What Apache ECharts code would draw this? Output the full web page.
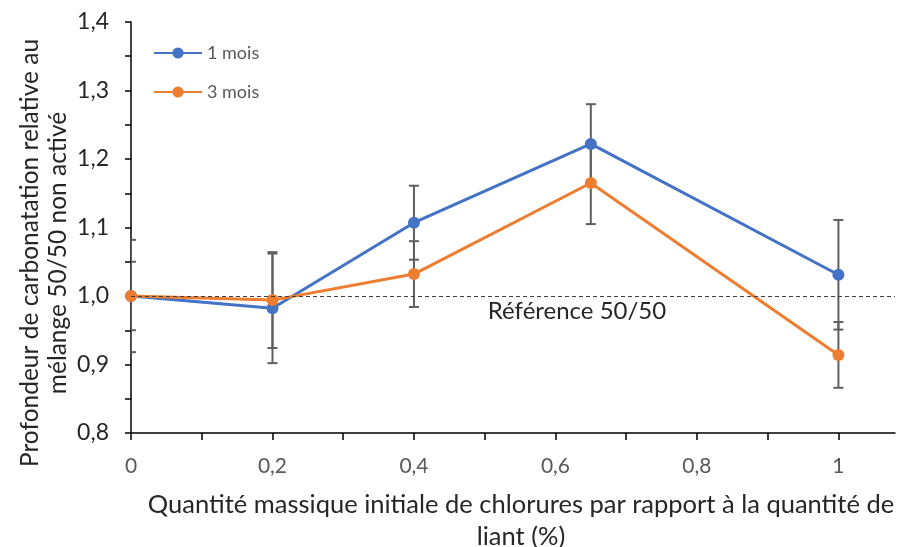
<!DOCTYPE html>
<html>
<head>
<meta charset="utf-8">
<script src="https://cdn.jsdelivr.net/npm/echarts@6/dist/echarts.min.js"></script>
<style>html,body{margin:0;padding:0;background:#fff}#c{width:901px;height:547px}</style>
</head>
<body>
<div id="c"></div>
<script>
const xValues = [0, 0.2, 0.4, 0.65, 1];
const mois1 = [1.0, 0.982, 1.107, 1.222, 1.031];
const mois1Err = [0.082, 0.08, 0.054, 0.058, 0.08];
const mois3 = [1.0, 0.994, 1.032, 1.165, 0.914];
const mois3Err = [0.05, 0.07, 0.048, 0.06, 0.048];
const xTickValues = [0, 0.1, 0.2, 0.3, 0.4, 0.5, 0.6, 0.7, 0.8, 0.9, 1.0];
const xLabelValues = [0, 0.2, 0.4, 0.6, 0.8, 1];
const yTickValues = [0.8, 0.85, 0.9, 0.95, 1.0, 1.05, 1.1, 1.15, 1.2, 1.25, 1.3, 1.35, 1.4];
const seriesNames = ['1 mois', '3 mois'];
const referenceValue = 1.0;
const referenceLabel = 'Référence 50/50';
const xTitle = 'Quantité massique initiale de chlorures par rapport à la quantité de\nliant (%)';
const yTitle = 'Profondeur de carbonatation relative au\nmélange 50/50 non activé';

const FONT = 'Lato';
const BLUE = '#4472C4', ORANGE = '#ED7D31', ERR = '#5f5f5f';

function errData(vals, errs) {
  return xValues.map((x, i) => [x, vals[i] - errs[i], vals[i] + errs[i]]);
}
function errRender(params, api) {
  const x = api.value(0);
  const lo = api.coord([x, api.value(1)]);
  const hi = api.coord([x, api.value(2)]);
  const w = 5;
  const style = { stroke: ERR, lineWidth: 2 };
  return {
    type: 'group',
    children: [
      { type: 'line', shape: { x1: lo[0], y1: lo[1], x2: hi[0], y2: hi[1] }, style },
      { type: 'line', shape: { x1: lo[0] - w, y1: lo[1], x2: lo[0] + w, y2: lo[1] }, style },
      { type: 'line', shape: { x1: hi[0] - w, y1: hi[1], x2: hi[0] + w, y2: hi[1] }, style }
    ]
  };
}

const chart = echarts.init(document.getElementById('c'), null, { renderer: 'canvas' });
chart.setOption({
  animation: false,
  textStyle: { fontFamily: FONT },
  grid: { left: 131, right: 6, top: 22, bottom: 114, containLabel: false },
  legend: {
    orient: 'vertical', left: 148, top: 37, itemWidth: 48, itemHeight: 14, itemGap: 17,
    data: seriesNames,
    textStyle: { color: '#595959', fontSize: 18, lineHeight: 22, fontFamily: FONT }
  },
  xAxis: {
    type: 'value', min: 0, max: 1.08,
    axisLine: { show: true, onZero: false, lineStyle: { color: '#000', width: 1.5 } },
    axisTick: { show: true, customValues: xTickValues, length: 7, lineStyle: { color: '#000', width: 1.5 } },
    axisLabel: {
      customValues: xLabelValues, margin: 23, color: '#595959', fontSize: 21, fontFamily: FONT,
      formatter: v => String(Math.round(v * 10) / 10).replace('.', ',')
    },
    splitLine: { show: false }
  },
  yAxis: {
    type: 'value', min: 0.8, max: 1.4, interval: 0.1,
    axisLine: { show: true, lineStyle: { color: '#000', width: 1.5 } },
    axisTick: { show: true, customValues: yTickValues, length: 6, lineStyle: { color: '#000', width: 1.5 } },
    axisLabel: {
      margin: 22, color: '#262626', fontSize: 23, fontFamily: FONT,
      formatter: v => v.toFixed(1).replace('.', ',')
    },
    splitLine: { show: false }
  },
  graphic: [
    { type: 'text', x: 577, y: 311, style: { text: referenceLabel, font: '24px ' + FONT, fill: '#262626', textAlign: 'center', textVerticalAlign: 'middle' }, z: 10 },
    { type: 'text', x: 521, y: 521, style: { text: xTitle, font: '25.5px ' + FONT, fill: '#262626', textAlign: 'center', textVerticalAlign: 'middle', lineHeight: 32 } },
    { type: 'text', x: 44, y: 253, rotation: Math.PI / 2, style: { text: yTitle, font: '24.5px ' + FONT, fill: '#262626', textAlign: 'center', textVerticalAlign: 'middle', lineHeight: 28 } }
  ],
  series: [
    {
      type: 'custom', name: 'err1', renderItem: errRender, data: errData(mois1, mois1Err),
      encode: { x: 0, y: [1, 2] }, clip: true, z: 1, silent: true
    },
    {
      type: 'custom', name: 'err3', renderItem: errRender, data: errData(mois3, mois3Err),
      encode: { x: 0, y: [1, 2] }, clip: true, z: 1, silent: true
    },
    {
      type: 'line', name: seriesNames[0], data: xValues.map((x, i) => [x, mois1[i]]),
      symbol: 'circle', symbolSize: 12, itemStyle: { color: BLUE }, lineStyle: { color: BLUE, width: 3 }, z: 3,
      markLine: {
        silent: true, symbol: ['none', 'none'], label: { show: false },
        lineStyle: { color: '#404040', type: [4, 3], width: 1 },
        data: [{ yAxis: referenceValue }]
      }
    },
    {
      type: 'line', name: seriesNames[1], data: xValues.map((x, i) => [x, mois3[i]]),
      symbol: 'circle', symbolSize: 12, itemStyle: { color: ORANGE }, lineStyle: { color: ORANGE, width: 3 }, z: 4
    }
  ]
});
</script>
</body>
</html>
